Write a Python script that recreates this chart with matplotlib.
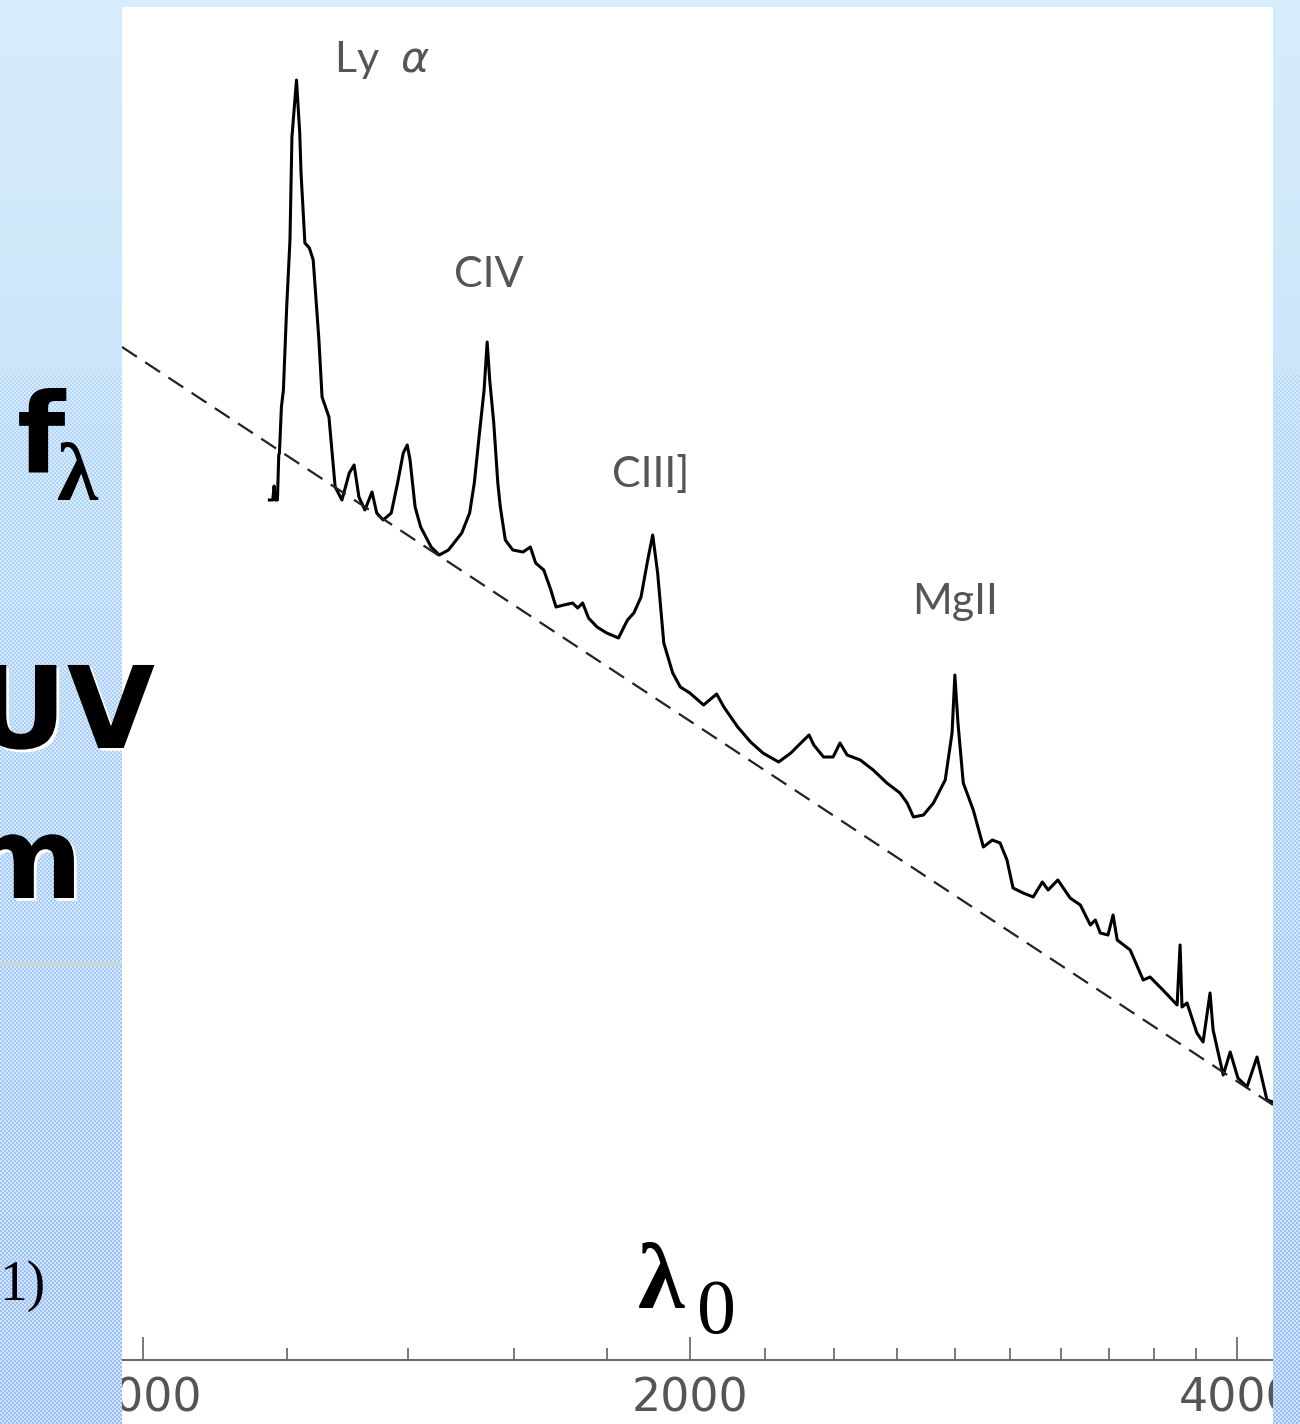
import numpy as np
import matplotlib
matplotlib.use("Agg")
import matplotlib.pyplot as plt
import matplotlib.patheffects as pe
from matplotlib.ticker import NullFormatter

# quasar composite spectrum, rest wavelength (Angstrom) vs flux (arbitrary units)
wave = [1174, 1179, 1181, 1183, 1186, 1188, 1189, 1192, 1195, 1200,
        1205, 1208, 1215, 1220, 1222, 1228, 1235, 1241, 1250, 1255,
        1266, 1276, 1287, 1299, 1307, 1315, 1325, 1337, 1345, 1356,
        1370, 1381, 1391, 1398, 1403, 1412, 1422, 1441, 1456, 1473,
        1498, 1513, 1522, 1532, 1541, 1547, 1552, 1560, 1568, 1573,
        1583, 1598, 1619, 1634, 1645, 1662, 1677, 1688, 1705, 1724,
        1735, 1746, 1759, 1778, 1800, 1827, 1848, 1863, 1880, 1896,
        1908, 1920, 1935, 1957, 1976, 2000, 2035, 2069, 2088, 2125,
        2160, 2194, 2238, 2273, 2302, 2326, 2340, 2369, 2398, 2419,
        2441, 2482, 2523, 2567, 2610, 2634, 2655, 2689, 2723, 2764,
        2788, 2798, 2809, 2828, 2864, 2901, 2934, 2963, 2989, 3012,
        3051, 3090, 3126, 3149, 3188, 3238, 3280, 3322, 3343, 3364,
        3397, 3419, 3437, 3494, 3552, 3583, 3642, 3708, 3722, 3731,
        3755, 3802, 3832, 3866, 3881, 3931, 3966, 4005, 4051, 4103,
        4155, 4186]
flux = [86.0, 86.0, 87.4, 86.0, 86.0, 90.5, 90.7, 95.3, 97.0, 105.3,
        112.0, 122.3, 128.0, 122.7, 118.7, 111.7, 111.2, 110.0, 102.0, 96.3,
        94.3, 87.3, 86.0, 88.7, 89.5, 86.3, 85.0, 86.8, 84.7, 84.0,
        84.7, 87.7, 90.7, 91.5, 90.0, 85.3, 83.3, 81.3, 80.5, 81.0,
        82.7, 84.7, 87.7, 92.7, 97.0, 101.8, 98.0, 93.7, 87.7, 85.3,
        82.0, 81.0, 80.8, 81.3, 79.7, 79.0, 77.0, 75.3, 75.5, 75.7,
        75.2, 75.7, 74.2, 73.3, 72.7, 72.2, 74.0, 74.7, 76.3, 80.0,
        82.5, 78.7, 71.7, 68.7, 67.3, 66.7, 65.5, 66.6, 65.3, 63.3,
        61.8, 60.7, 59.8, 60.7, 61.7, 62.5, 61.5, 60.3, 60.3, 61.7,
        60.5, 60.0, 59.0, 57.7, 56.7, 55.7, 54.3, 54.5, 55.7, 58.0,
        62.7, 68.5, 63.7, 57.7, 55.0, 51.3, 52.0, 51.7, 50.0, 47.2,
        46.7, 46.3, 47.8, 47.0, 48.0, 46.2, 45.5, 43.5, 44.0, 42.7,
        42.5, 44.5, 42.0, 41.0, 38.0, 38.3, 37.0, 35.5, 41.5, 35.3,
        35.7, 32.7, 31.8, 36.7, 33.0, 28.5, 30.8, 28.2, 27.3, 30.3,
        26.0, 25.8]

# power-law continuum (dashed)
cont_wave = [974, 4187]
cont_flux = [101.3, 25.5]

# emission line labels
line_names = ["Ly  $\\alpha$", "CIV", "CIII]", "MgII"]
line_wave = [1354, 1551, 1904, 2798]
line_flux = [128.8, 107.3, 87.3, 74.6]

major_ticks = [1000, 2000, 4000]
major_labels = ["1000", "2000", "4000"]
minor_ticks = [1200, 1400, 1600, 1800, 2200, 2400, 2600, 2800, 3000,
               3200, 3400, 3600, 3800]

W, H = 1300, 1424
fig = plt.figure(figsize=(W / 100, H / 100), dpi=100, facecolor="#cfe7fb")


def px(x, y):
    return x / W, 1 - y / H


# slide background: gradient on top, blue checker pattern below
r = np.arange(H)[:, None, None]
c = np.arange(W)[None, :, None]
t = np.clip(r / 375, 0, 1)
top = (1 - t) * np.array([0.84, 0.93, 0.99]) + t * np.array([0.80, 0.90, 0.98])
s = np.clip((r - 375) / (H - 375), 0, 1)
light = (1 - s) * np.array([0.84, 0.93, 0.99]) + s * np.array([0.80, 0.90, 0.99])
dark = (1 - s) * np.array([0.72, 0.84, 0.98]) + s * np.array([0.62, 0.74, 0.97])
chk = ((r // 2 + c // 2) % 2) == 1
low = np.where(chk, dark, light)
rgb = np.where(r < 375, top, low)
rgb = np.broadcast_to(rgb, (H, W, 3)).copy()
rgb[962:966, :122] = [0.78, 0.84, 0.86]
alpha = np.ones((H, W, 1))
alpha[7:, 122:1273] = 0
bg = np.concatenate([rgb, alpha], axis=2)

# main plot
ax = fig.add_axes([122 / W, 0, (1273 - 122) / W, (H - 7) / H], zorder=0)
ax.set_facecolor("white")
ax.plot(wave, flux, color="black", lw=2.2, solid_joinstyle="round")
ax.plot(cont_wave, cont_flux, color="#222222", lw=1.6, dashes=(8, 4.5))
ax.set_xscale("log")
ax.set_xlim(974, 4187)
ax.set_ylim(-6.4, 135.3)

for name, lw_, lf in zip(line_names, line_wave, line_flux):
    ax.text(lw_, lf, name, ha="center", va="baseline", fontsize=31,
            color="#555555", family="Lato")

ax.set_xticks(major_ticks, labels=major_labels)
ax.set_xticks(minor_ticks, minor=True)
ax.xaxis.set_minor_formatter(NullFormatter())
ax.tick_params(axis="x", which="both", direction="in", color="#555555",
               labelcolor="#555555", labelsize=33, pad=12, width=1.1)
ax.tick_params(axis="x", which="major", length=16.5)
ax.tick_params(axis="x", which="minor", length=8.6)
ax.tick_params(axis="y", left=False, labelleft=False)
for lab in ax.get_xticklabels():
    lab.set_family("Lato")
ax.xaxis.get_major_ticks()[0].tick1line.set_markersize(8.6)
for side in ["top", "left", "right"]:
    ax.spines[side].set_visible(False)
ax.spines["bottom"].set_position(("data", 0))
ax.spines["bottom"].set_color("#666666")
ax.spines["bottom"].set_linewidth(1.4)

# overlay of slide background (hides the cut tick labels)
ov = fig.add_axes([0, 0, 1, 1], zorder=1)
ov.imshow(bg, aspect="auto", interpolation="nearest")
ov.axis("off")

# slide text
shadow = [pe.SimplePatchShadow(offset=(2, -2), shadow_rgbFace="white", alpha=1.0), pe.Normal()]
fig.text(*px(17, 472), "f", fontsize=80, fontweight="bold", family="DejaVu Sans",
         ha="left", va="baseline", zorder=3)
fig.text(*px(57, 500), "λ", fontsize=60, fontweight="bold", family="Liberation Serif",
         ha="left", va="baseline", zorder=3)
fig.text(*px(155, 748), "UV", fontsize=82, fontweight="bold", family="DejaVu Sans",
         ha="right", va="baseline", zorder=3, path_effects=shadow)
fig.text(*px(83, 898), "m", fontsize=82, fontweight="bold", family="DejaVu Sans",
         ha="right", va="baseline", zorder=3, path_effects=shadow)
fig.text(*px(45, 1300), "1)", fontsize=40, family="Liberation Serif",
         ha="right", va="baseline", zorder=3)
fig.text(*px(638, 1308), "λ", fontsize=68, fontweight="bold", family="Liberation Serif",
         ha="left", va="baseline", zorder=3)
fig.text(*px(697, 1333), "0", fontsize=56, family="Liberation Serif",
         ha="left", va="baseline", zorder=3)

fig.savefig("out.png", dpi=100)
